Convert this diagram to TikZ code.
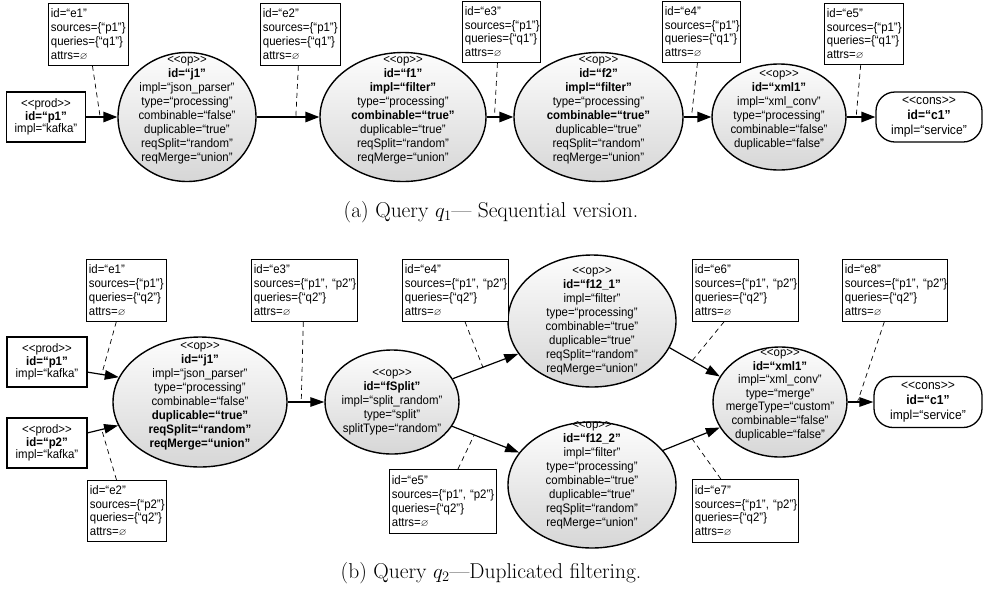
\documentclass[tikz,border=0pt]{standalone}
\usepackage{fontspec}
\usepackage{amssymb}
\newfontfamily\diagfont[FakeStretch=0.93]{Liberation Sans}
\usetikzlibrary{arrows.meta,calc,shapes.geometric}
\newcommand\eset{\scalebox{0.8}{$\varnothing$}}
\newcommand\ltlt{<{}<}
\newcommand\gtgt{>{}>}
\tikzset{
  txt/.style={font=\diagfont\fontsize{12.3pt}{14pt}\selectfont, align=center, inner sep=0pt},
  opell/.style={ellipse, draw, line width=1.4pt, top color=gray!2, bottom color=gray!32, inner sep=0pt},
  ebox/.style={draw, line width=0.8pt, fill=white, anchor=north west, align=left,
    font=\diagfont\fontsize{12.3pt}{13.8pt}\selectfont, inner xsep=2.5pt, inner ysep=0pt,
    text width=#1, minimum height=62pt},
  prodbox/.style={draw, line width=1.3pt, minimum width=79pt, minimum height=50pt, align=center,
    inner sep=0pt, font=\diagfont\fontsize{12.3pt}{12.6pt}\selectfont},
  consbox/.style={draw, line width=1.3pt, rounded corners=19pt, minimum width=106pt, minimum height=50pt,
    align=center, inner sep=0pt, font=\diagfont\fontsize{13pt}{15pt}\selectfont},
  arrA/.style={line width=1.5pt, -{Triangle[length=14pt,width=10.5pt]}},
  arrB/.style={line width=1.2pt, -{Triangle[length=14pt,width=9.5pt]}},
  dsh/.style={line width=0.7pt, dash pattern=on 5pt off 4pt},
  captxt/.style={font=\fontsize{21.5pt}{25pt}\selectfont, inner sep=0pt}
}
\begin{document}
\begin{tikzpicture}[x=1pt,y=-1pt]
\useasboundingbox (0,0) rectangle (983,590);

% ---------------- (a) ----------------
\node[prodbox] (p1a) at (46,117) {\ltlt prod\gtgt\\\textbf{id=“p1”}\\impl=“kafka”};

\node[opell, minimum width=138pt, minimum height=129pt] (j1a) at (187,117) {};
\node[txt] (j1at) at ($(j1a)+(0,-7)$) {\ltlt op\gtgt\\\textbf{id=“j1”}\\impl=“json\_parser”\\type=“processing”\\combinable=“false”\\duplicable=“true”\\reqSplit=“random”\\reqMerge=“union”};

\node[opell, minimum width=166pt, minimum height=129pt] (f1a) at (403,117) {};
\node[txt] (f1at) at ($(f1a)+(0,-7)$) {\ltlt op\gtgt\\\textbf{id=“f1”}\\\textbf{impl=“filter”}\\type=“processing”\\\textbf{combinable=“true”}\\duplicable=“true”\\reqSplit=“random”\\reqMerge=“union”};

\node[opell, minimum width=169pt, minimum height=129pt] (f2a) at (598.5,117) {};
\node[txt] (f2at) at ($(f2a)+(0,-7)$) {\ltlt op\gtgt\\\textbf{id=“f2”}\\\textbf{impl=“filter”}\\type=“processing”\\\textbf{combinable=“true”}\\duplicable=“true”\\reqSplit=“random”\\reqMerge=“union”};

\node[opell, minimum width=134pt, minimum height=106pt] (x1a) at (779,117) {};
\node[txt] (x1at) at ($(x1a)+(0,-7)$) {\ltlt op\gtgt\\\textbf{id=“xml1”}\\impl=“xml\_conv”\\type=“processing”\\combinable=“false”\\duplicable=“false”};

\node[consbox] (c1a) at (929,117) {\ltlt cons\gtgt\\\textbf{id=“c1”}\\impl=“service”};

\node[ebox=75pt] (e1a) at (48,3) {id=“e1”\\sources=\{“p1”\}\\queries=\{“q1”\}\\attrs=\eset};
\node[ebox=75pt] (e2a) at (260,3) {id=“e2”\\sources=\{“p1”\}\\queries=\{“q1”\}\\attrs=\eset};
\node[ebox=73pt, minimum height=61pt] (e3a) at (462,1) {id=“e3”\\sources=\{“p1”\}\\queries=\{“q1”\}\\attrs=\eset};
\node[ebox=73pt, minimum height=61pt] (e4a) at (662,1) {id=“e4”\\sources=\{“p1”\}\\queries=\{“q1”\}\\attrs=\eset};
\node[ebox=74pt, minimum height=61pt] (e5a) at (824,3) {id=“e5”\\sources=\{“p1”\}\\queries=\{“q1”\}\\attrs=\eset};

\draw[arrA] (p1a) -- coordinate[pos=0.45] (m1a) (j1a);
\draw[arrA] (j1a) -- coordinate[pos=0.625] (m2a) (f1a);
\draw[arrA] (f1a) -- coordinate[pos=0.29] (m3a) (f2a);
\draw[arrA] (f2a) -- coordinate[pos=0.28] (m4a) (x1a);
\draw[arrA] (x1a) -- coordinate[pos=0.33] (m5a) (c1a);

\draw[dsh] ($(e1a.south west)!0.55!(e1a.south east)$) -- (m1a);
\draw[dsh] ($(e2a.south west)!0.475!(e2a.south east)$) -- (m2a);
\draw[dsh] ($(e3a.south west)!0.45!(e3a.south east)$) -- (m3a);
\draw[dsh] ($(e4a.south west)!0.45!(e4a.south east)$) -- (m4a);
\draw[dsh] ($(e5a.south west)!0.46!(e5a.south east)$) -- (m5a);

\node[captxt] (capa) at (491,212) {(a) Query $q_1$— Sequential version.};

% ---------------- (b) ----------------
\node[prodbox, minimum width=80pt] (p1b) at (47,362) {\ltlt prod\gtgt\\\textbf{id=“p1”}\\impl=“kafka”};
\node[prodbox, minimum width=80pt] (p2b) at (47,443) {\ltlt prod\gtgt\\\textbf{id=“p2”}\\impl=“kafka”};

\node[opell, minimum width=174pt, minimum height=130pt] (j1b) at (200,402) {};
\node[txt] (j1bt) at ($(j1b)+(0,-6)$) {\ltlt op\gtgt\\\textbf{id=“j1”}\\impl=“json\_parser”\\type=“processing”\\combinable=“false”\\\textbf{duplicable=“true”}\\\textbf{reqSplit=“random”}\\\textbf{reqMerge=“union”}};

\node[opell, minimum width=134pt, minimum height=104pt] (fs) at (392,402) {};
\node[txt] (fst) at (fs) {\ltlt op\gtgt\\\textbf{id=“fSplit”}\\impl=“split\_random”\\type=“split”\\splitType=“random”};

\node[opell, minimum width=168pt, minimum height=132pt] (f121) at (592,321) {};
\node[txt] (f121t) at (f121) {\ltlt op\gtgt\\\textbf{id=“f12\_1”}\\impl=“filter”\\type=“processing”\\combinable=“true”\\duplicable=“true”\\reqSplit=“random”\\reqMerge=“union”};

\node[opell, minimum width=168pt, minimum height=126pt] (f122) at (592,485) {};
\node[txt] (f122t) at ($(f122)+(0,-10)$) {\ltlt op\gtgt\\\textbf{id=“f12\_2”}\\impl=“filter”\\type=“processing”\\combinable=“true”\\duplicable=“true”\\reqSplit=“random”\\reqMerge=“union”};

\node[opell, minimum width=134pt, minimum height=110pt] (x1b) at (780,402) {};
\node[txt, font=\diagfont\fontsize{12.3pt}{13.6pt}\selectfont] (x1bt) at ($(x1b)+(0,-7)$) {\ltlt op\gtgt\\\textbf{id=“xml1”}\\impl=“xml\_conv”\\type=“merge”\\mergeType=“custom”\\combinable=“false”\\duplicable=“false”};

\node[consbox, minimum width=108pt, minimum height=51pt] (c1b) at (928,402) {\ltlt cons\gtgt\\\textbf{id=“c1”}\\impl=“service”};

\node[ebox=75pt] (e1b) at (86,259) {id=“e1”\\sources=\{“p1”\}\\queries=\{“q2”\}\\attrs=\eset};
\node[ebox=74pt, minimum height=61pt] (e2b) at (87,480) {id=“e2”\\sources=\{“p2”\}\\queries=\{“q2”\}\\attrs=\eset};
\node[ebox=101pt] (e3b) at (251,259) {id=“e3”\\sources=\{“p1”,~“p2”\}\\queries=\{“q2”\}\\attrs=\eset};
\node[ebox=101pt] (e4b) at (402,259) {id=“e4”\\sources=\{“p1”,~“p2”\}\\queries=\{“q2”\}\\attrs=\eset};
\node[ebox=102pt, minimum height=64pt] (e5b) at (389,469) {id=“e5”\\sources=\{“p1”,~“p2”\}\\queries=\{“q2”\}\\attrs=\eset};
\node[ebox=101pt] (e6b) at (692,259) {id=“e6”\\sources=\{“p1”,~“p2”\}\\queries=\{“q2”\}\\attrs=\eset};
\node[ebox=101pt, minimum height=63pt] (e7b) at (692,479) {id=“e7”\\sources=\{“p1”,~“p2”\}\\queries=\{“q2”\}\\attrs=\eset};
\node[ebox=100pt] (e8b) at (842,259) {id=“e8”\\sources=\{“p1”,~“p2”\}\\queries=\{“q2”\}\\attrs=\eset};

\draw[arrB] (p1b.-14) -- coordinate[pos=0.45] (m1b) (j1b.163);
\draw[arrB] (p2b.14) -- coordinate[pos=0.46] (m2b) (j1b.196);
\draw[arrB] (j1b) -- coordinate[pos=0.37] (m3b) (fs);
\draw[arrB] (fs.21) -- coordinate[pos=0.46] (m4b) (f121.204);
\draw[arrB] (fs.-22) -- coordinate[pos=0.33] (m5b) (f122.156);
\draw[arrB] (f121.-19) -- coordinate[pos=0.45] (m6b) (x1b.157);
\draw[arrB] (f122.26) -- coordinate[pos=0.51] (m7b) (x1b.203);
\draw[arrB] (x1b) -- coordinate[pos=0.38] (m8b) (c1b);

\draw[dsh] ($(e1b.south west)!0.375!(e1b.south east)$) -- (m1b);
\draw[dsh] ($(e2b.north west)!0.37!(e2b.north east)$) -- (m2b);
\draw[dsh] ($(e3b.south west)!0.49!(e3b.south east)$) -- (m3b);
\draw[dsh] ($(e4b.south west)!0.59!(e4b.south east)$) -- (m4b);
\draw[dsh] ($(e5b.north west)!0.64!(e5b.north east)$) -- (m5b);
\draw[dsh] ($(e6b.south west)!0.30!(e6b.south east)$) -- (m6b);
\draw[dsh] ($(e7b.north west)!0.27!(e7b.north east)$) -- (m7b);
\draw[dsh] ($(e8b.south west)!0.40!(e8b.south east)$) -- (m8b);

\node[captxt] (capb) at (491,573) {(b) Query $q_2$—Duplicated filtering.};
\end{tikzpicture}
\end{document}
